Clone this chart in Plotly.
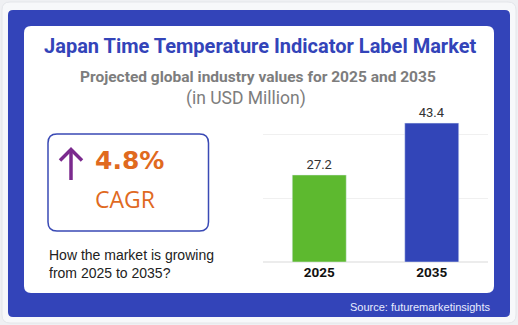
import plotly.graph_objects as go

W, H = 518, 325

years = ["2025", "2035"]
values = [27.2, 43.4]
bar_colors = ["#5db92f", "#3245b8"]
value_labels = ["27.2", "43.4"]

title = "Japan Time Temperature Indicator Label Market"
subtitle = "Projected global industry values for 2025 and 2035"
unit_note = "(in USD Million)"
cagr_value = "4.8%"
cagr_label = "CAGR"
question = "How the market is growing<br>from 2025 to 2035?"
source = "Source: futuremarketinsights"

BLUE = "#3344b9"


def px(x):
    return x / W


def py(y):
    return 1 - y / H


def rrect(x0, y0, x1, y1, r):
    p = lambda x, y: f"{px(x):.5f},{py(y):.5f}"
    s = f"M {p(x0 + r, y0)} L {p(x1 - r, y0)} Q {p(x1, y0)} {p(x1, y0 + r)} "
    s += f"L {p(x1, y1 - r)} Q {p(x1, y1)} {p(x1 - r, y1)} "
    s += f"L {p(x0 + r, y1)} Q {p(x0, y1)} {p(x0, y1 - r)} "
    s += f"L {p(x0, y0 + r)} Q {p(x0, y0)} {p(x0 + r, y0)} Z"
    return s


fig = go.Figure()
fig.add_trace(go.Bar(
    x=years, y=values, marker_color=bar_colors, width=0.48,
    text=value_labels, textposition="outside",
    textfont=dict(family="Roboto", size=13, color="#333333"),
    cliponaxis=False, hoverinfo="skip",
))

shapes = [
    dict(type="path", path=rrect(2, 2, 516, 323, 8), xref="paper", yref="paper",
         fillcolor="#f7f8fa", line=dict(color="#e4e6ea", width=1), layer="below"),
    dict(type="path", path=rrect(8, 10, 510, 317, 5), xref="paper", yref="paper",
         fillcolor=BLUE, line=dict(width=0), layer="below"),
    dict(type="path", path=rrect(24, 26, 494, 293, 7), xref="paper", yref="paper",
         fillcolor="white", line=dict(width=0), layer="below"),
    dict(type="path", path=rrect(48, 134, 208.5, 231, 9), xref="paper", yref="paper",
         fillcolor="rgba(0,0,0,0)", line=dict(color="#3a4ab5", width=1.5), layer="above"),
    dict(type="line", xref="paper", yref="paper", x0=px(71), x1=px(71), y0=py(180), y1=py(150),
         line=dict(color="#7b2a8e", width=3.5)),
    dict(type="path", xref="paper", yref="paper",
         path=f"M {px(60)},{py(160.5)} L {px(71)},{py(149.5)} L {px(82)},{py(160.5)}",
         line=dict(color="#7b2a8e", width=3.5), fillcolor="rgba(0,0,0,0)"),
]

ann = [
    dict(text=f"<b>{title}</b>", x=px(259.5), y=py(46),
         font=dict(family="Roboto", size=20, color="#3344b9")),
    dict(text=f"<b>{subtitle}</b>", x=px(257.5), y=py(77),
         font=dict(family="Roboto", size=15.5, color="#7d7d7d")),
    dict(text=unit_note, x=px(246), y=py(98),
         font=dict(family="Roboto", size=17.5, color="#7d7d7d")),
    dict(text=f"<b>{cagr_value}</b>", x=px(93), y=py(161), xanchor="left",
         font=dict(family="DejaVu Sans", size=25, color="#e06a1f")),
    dict(text=cagr_label, x=px(93), y=py(199), xanchor="left",
         font=dict(family="Open Sans", size=23, color="#e06a1f")),
    dict(text=question, x=px(47), y=py(264), xanchor="left", align="left",
         font=dict(family="Liberation Sans", size=14, color="#222222")),
    dict(text=source, x=px(493), y=py(307), xanchor="right",
         font=dict(family="Liberation Sans", size=11, color="#e8ecff")),
]
for a in ann:
    a.setdefault("xanchor", "center")
    a.update(xref="paper", yref="paper", showarrow=False, yanchor="middle")

fig.update_layout(
    width=W, height=H, margin=dict(l=0, r=0, t=0, b=0),
    paper_bgcolor="#eff0f3", plot_bgcolor="rgba(0,0,0,0)",
    showlegend=False, shapes=shapes, annotations=ann,
    bargap=0.5,
    xaxis=dict(domain=[px(263), px(488)], showgrid=False, showline=False, ticks="",
               tickfont=dict(family="Roboto", size=13.5, color="#111111"),
               tickprefix="<b>", ticksuffix="</b>", fixedrange=True),
    yaxis=dict(domain=[py(262), py(102)], range=[0, 50], dtick=20, showticklabels=False,
               gridcolor="#f0f0f0", gridwidth=1, zeroline=True, zerolinecolor="#ececec",
               fixedrange=True),
)

fig.write_html("out.html")
